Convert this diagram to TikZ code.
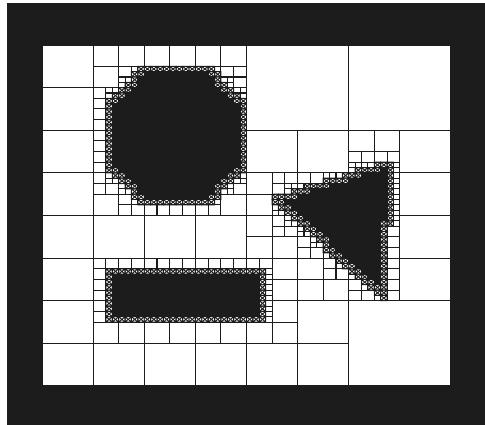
\documentclass[tikz,border=0pt]{standalone}
\usepackage{tikz}

\definecolor{ink}{HTML}{1C1C1C}

\newcount\cellstate
\newif\ifcellin
\newif\ifcellout
\def\maxlevel{4}

% obstacles, listed clockwise on screen, first vertex repeated at the end
\def\octshape{145.75/69, 206.75/69, 244/105.6, 244/165.4, 206.75/202, 145.75/202, 108.5/165.4, 108.5/105.6, 145.75/69}
\def\trishape{276/199, 390.5/164, 383/296, 276/199}
\def\rectshape{109/271.5, 262.5/271.5, 262.5/322, 109/322, 109/271.5}

\newcommand\testshape[5]{%
  \pgfmathparse{or(or(\cx+\ca<#1,\cx-\ca>#3),or(\cy+\cb<#2,\cy-\cb>#4))}%
  \ifdim\pgfmathresult pt=0pt
    \global\cellintrue\global\celloutfalse
    \foreach \x/\y [count=\k, remember=\x as \px (initially 0), remember=\y as \py (initially 0)] in #5 {%
      \ifnum\k>1
        \pgfmathsetmacro\fq{(\x-\px)/10*(\cy-\py)/10-(\y-\py)/10*(\cx-\px)/10}%
        \pgfmathsetmacro\ext{abs(\y-\py)/10*\ca/10+abs(\x-\px)/10*\cb/10}%
        \ifdim\fq pt<\ext pt\global\cellinfalse\fi
        \ifdim-\fq pt>\ext pt\global\cellouttrue\fi
      \fi}%
    \ifcellout\else
      \ifcellin
        \ifnum\cellstate=0 \global\cellstate=2 \fi
      \else
        \global\cellstate=1
      \fi
    \fi
  \fi}

\newcommand\quadcell[5]{%
  \begingroup
  \pgfmathsetmacro\ca{#3/2}\pgfmathsetmacro\cb{#4/2}%
  \pgfmathsetmacro\cx{#1+\ca}\pgfmathsetmacro\cy{#2+\cb}%
  \global\cellstate=0
  \testshape{108.5}{69}{244}{202}{\octshape}%
  \testshape{276}{164}{390.5}{296}{\trishape}%
  \testshape{109}{271.5}{262.5}{322}{\rectshape}%
  \ifnum\cellstate=1
    \ifnum#5<\maxlevel
      \pgfmathtruncatemacro\nextlevel{#5+1}%
      \subcell{#1}{#2}\subcell{\cx}{#2}\subcell{#1}{\cy}\subcell{\cx}{\cy}%
    \else
      \draw[crosscell] (#1,#2) rectangle ++(#3,#4) (#1,#2) -- ++(#3,#4) (#1+#3,#2) -- ++(-#3,#4);
    \fi
  \else
    \ifnum\cellstate=2
      \filldraw[solidcell] (#1,#2) rectangle ++(#3,#4);
    \else
      \draw[gridcell] (#1,#2) rectangle ++(#3,#4);
    \fi
  \fi
  \endgroup}
\newcommand\subcell[2]{\edef\cellcall{\noexpand\quadcell{#1}{#2}{\ca}{\cb}{\nextlevel}}\cellcall}

\begin{document}
\begin{tikzpicture}[
  x=1pt, y=-1pt,
  frame/.style={fill=ink},
  gridcell/.style={draw=ink,line width=1.1pt},
  crosscell/.style={draw=ink,line width=0.95pt},
  solidcell/.style={fill=ink,draw=ink,line width=1.1pt}
]
\useasboundingbox (0,0) rectangle (485,425);
\fill[white] (0,0) rectangle (485,425);
\fill[frame] (7,3) rectangle (485,425);
\fill[white] (42,45) rectangle (451,386);
\foreach \i in {0,...,3}{
  \foreach \j in {0,...,3}{
    \pgfmathsetmacro\qx{42+102.25*\i}
    \pgfmathsetmacro\qy{45+85.25*\j}
    \edef\cellcall{\noexpand\quadcell{\qx}{\qy}{102.25}{85.25}{0}}\cellcall
  }
}
\end{tikzpicture}
\end{document}
